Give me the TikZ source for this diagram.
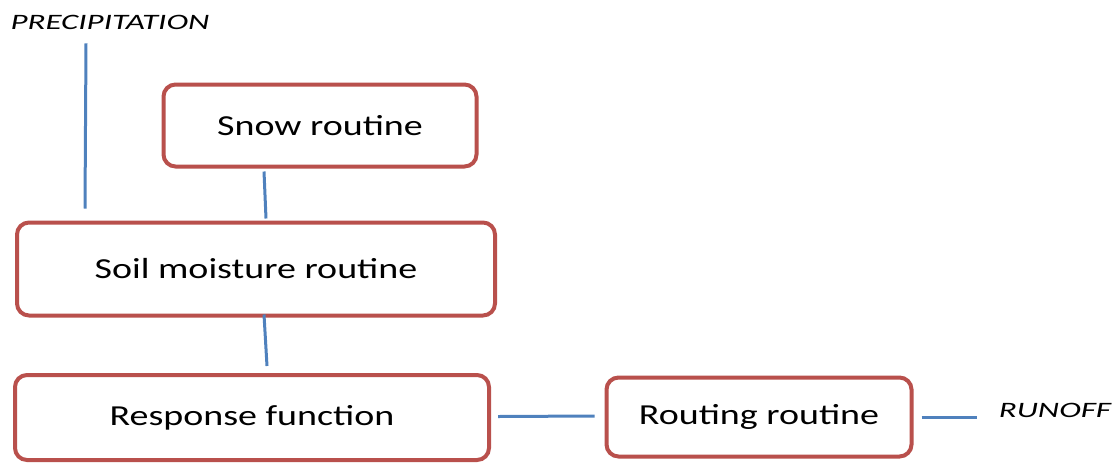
\documentclass[tikz,border=0pt]{standalone}
\usepackage{fontspec}
\setmainfont{Carlito}
\usetikzlibrary{calc}
\definecolor{boxred}{HTML}{B9504C}
\definecolor{lineblue}{HTML}{4F81BD}
\newcommand{\wide}[1]{\scalebox{1.31}[1]{#1}}
\newcommand{\widelab}[1]{\scalebox{1.5}[1]{#1}}
\tikzset{
  routinebox/.style={draw=boxred, line width=4pt, rounded corners=12pt, fill=white,
    font=\fontsize{29}{34}\selectfont, inner sep=0pt, anchor=center},
  conn/.style={draw=lineblue, line width=3pt},
  label/.style={font=\fontsize{22}{26}\selectfont\itshape, inner sep=0pt, anchor=center}
}
\begin{document}
\begin{tikzpicture}[x=1pt,y=-1pt]
\useasboundingbox (0,0) rectangle (1115,464);
\node[routinebox, minimum width=313pt, minimum height=82pt] (snow) at (320,125.5) {\wide{Snow routine}};
\node[routinebox, minimum width=478pt, minimum height=93pt] (soil) at (256,269) {\wide{Soil moisture routine}};
\node[routinebox, minimum width=474pt, minimum height=85pt] (resp) at (252,417.5) {\wide{Response function}};
\node[routinebox, minimum width=305pt, minimum height=79pt] (rout) at (759,417) {\wide{Routing routine}};
\node[label] (precip) at (110,22) {\widelab{PRECIPITATION}};
\node[label] (runoff) at (1055,410) {\widelab{RUNOFF}};
\coordinate (ptop) at ($(precip.south)+(-24,14)$);
\coordinate (pbot) at ($(soil.north west)+(70,-12)$);
\coordinate (rend) at ($(runoff.west)+(-22,7)$);
\draw[conn] (ptop) -- (pbot);
\draw[conn] ($(snow.south)+(-56,3)$) -- ($(soil.north)+(10,-2)$);
\draw[conn] ($(soil.south)+(8,-3)$) -- ($(resp.north)+(15,-7)$);
\draw[conn] ($(resp.east)+(7,-1)$) -- ($(rout.west)+(-10,-1)$);
\draw[conn] ($(rout.east)+(8,0)$) -- (rend);
\end{tikzpicture}
\end{document}
